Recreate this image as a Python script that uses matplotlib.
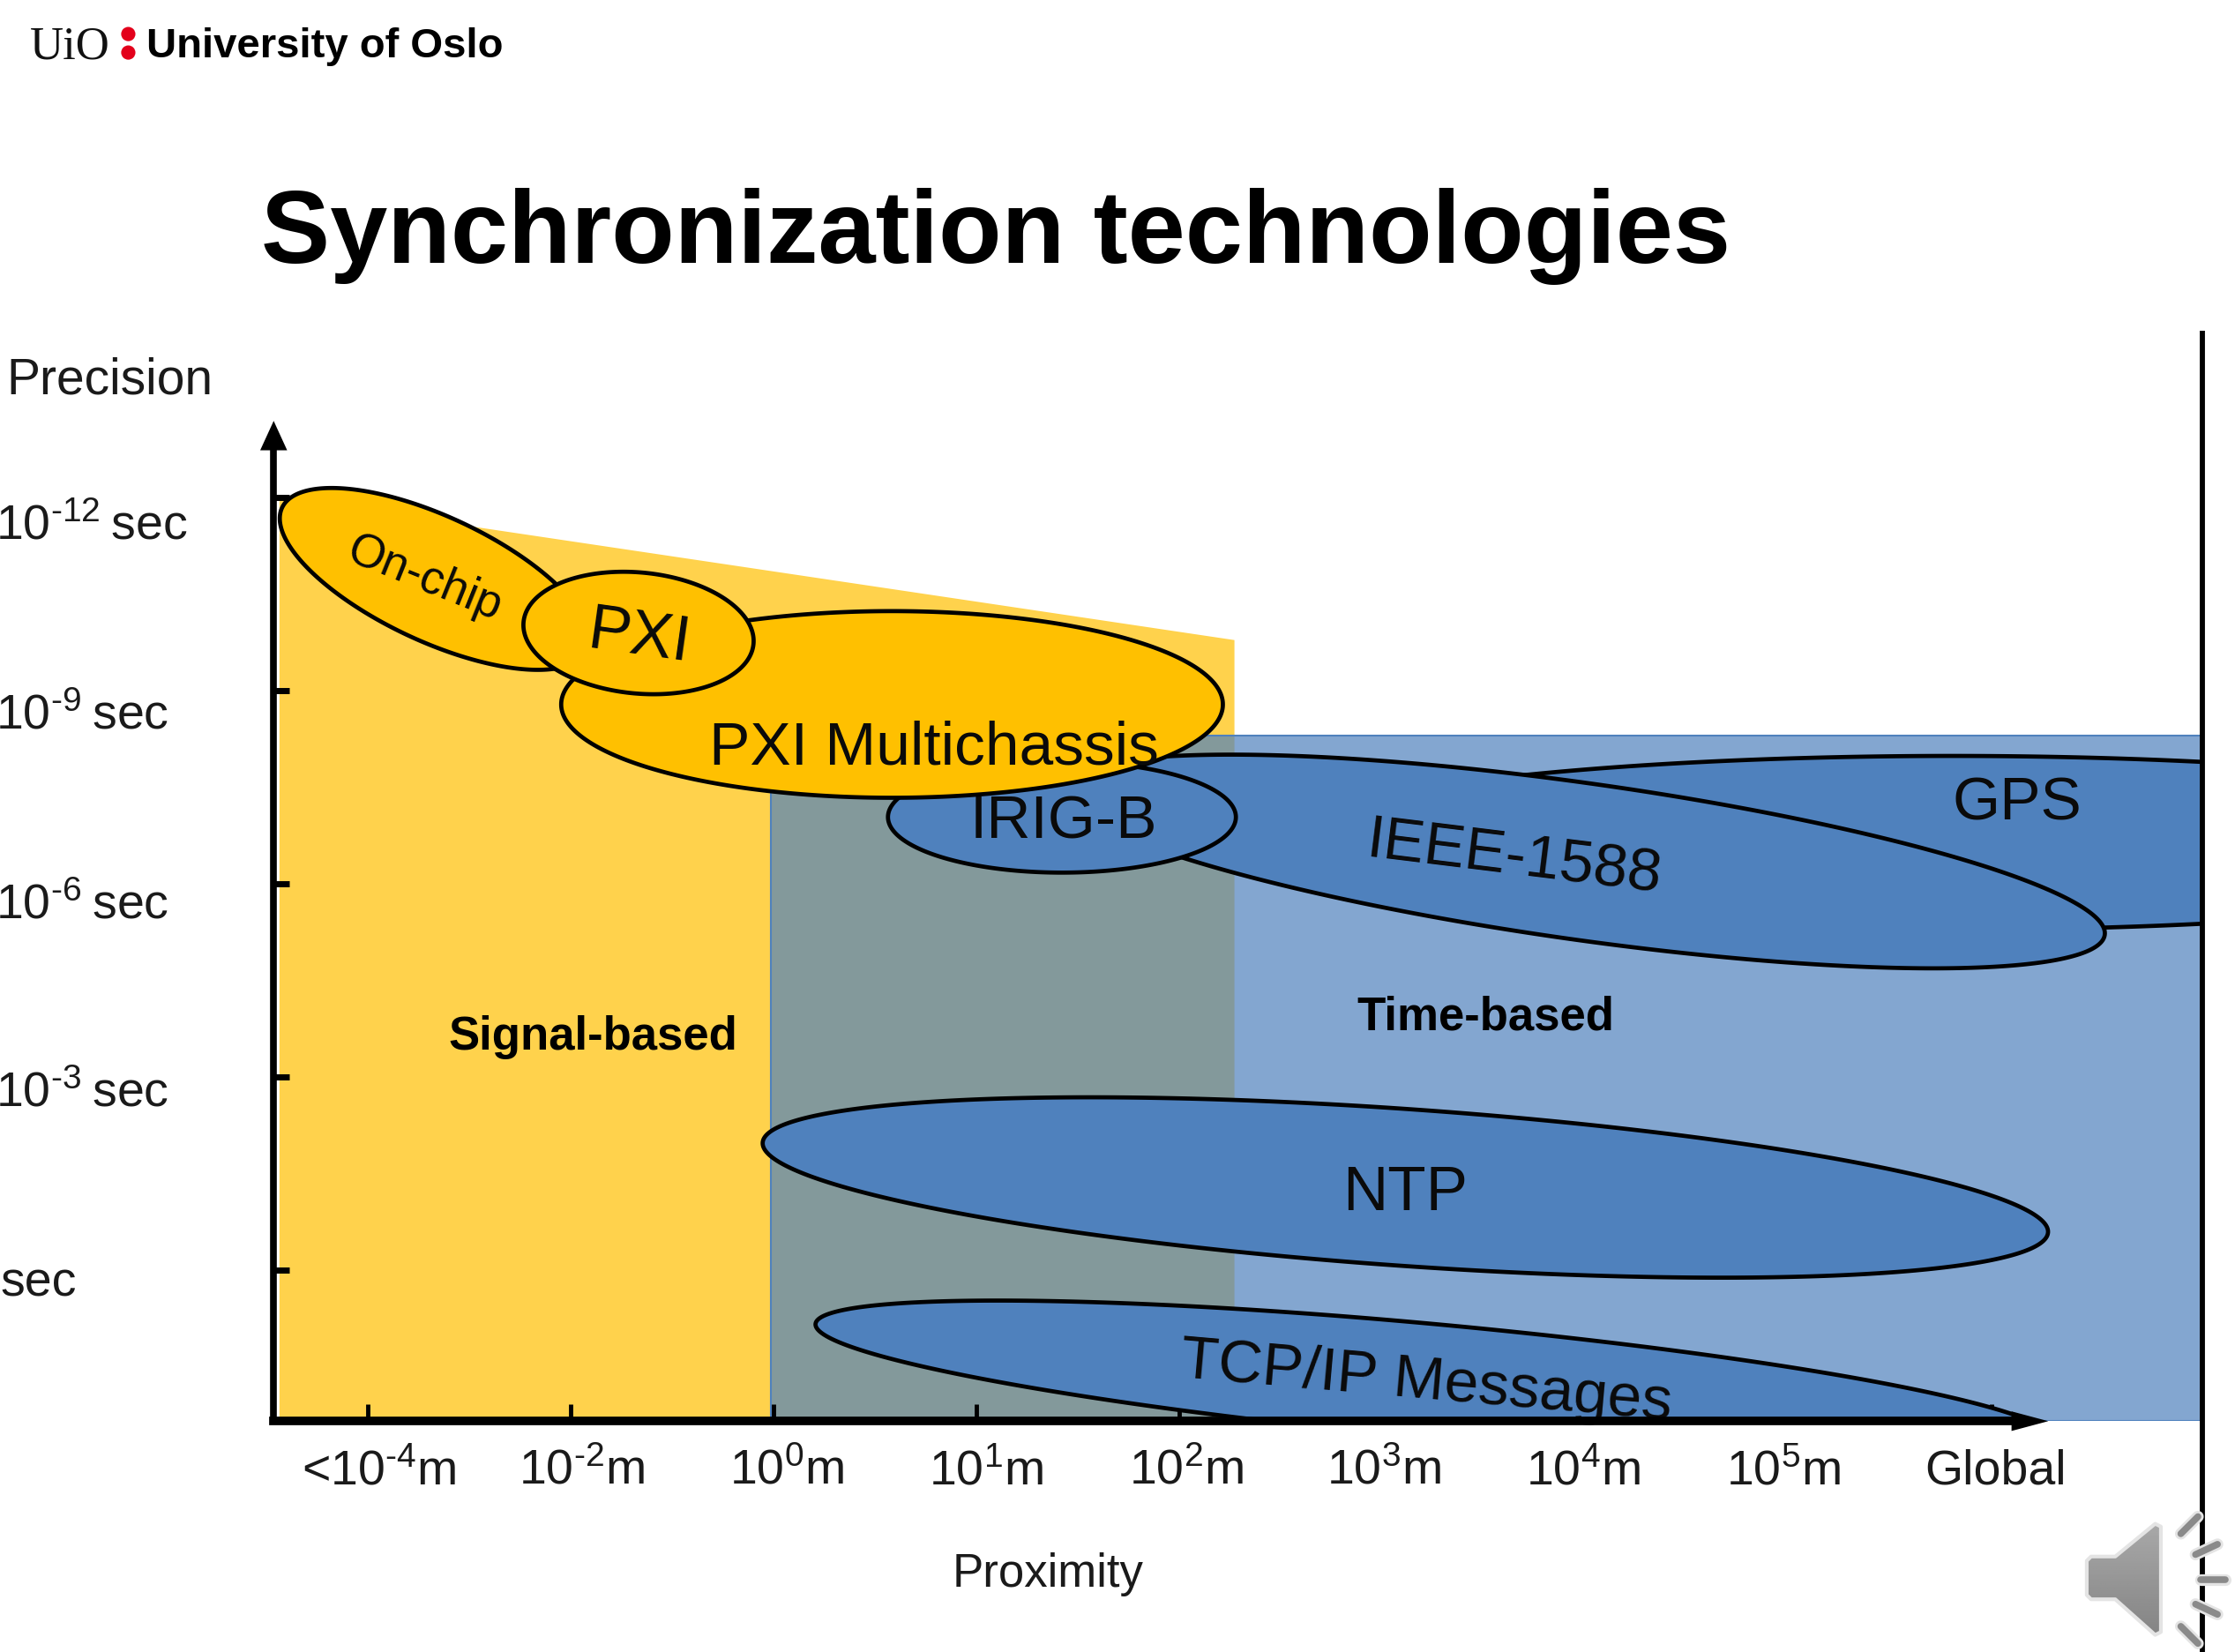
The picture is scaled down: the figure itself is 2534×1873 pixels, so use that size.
import numpy as np
import matplotlib
matplotlib.use("Agg")
import matplotlib.pyplot as plt
from matplotlib.patches import Polygon, Ellipse

W, H = 2534, 1874
REF_W, REF_H = 1568.0, 1160.0

plt.rcParams["font.family"] = ["Liberation Sans", "DejaVu Sans"]
plt.rcParams["mathtext.fontset"] = "custom"
plt.rcParams["mathtext.rm"] = "Liberation Sans"
plt.rcParams["mathtext.default"] = "rm"

TITLE = "Synchronization technologies"
ORG = "University of Oslo"
X_LABELS = ["<10$^{\u20104}$m", "10$^{\u20102}$m", "10$^{0}$m", "10$^{1}$m", "10$^{2}$m",
            "10$^{3}$m", "10$^{4}$m", "10$^{5}$m", "Global"]
X_TICKS = [0, 1, 2, 3, 4, 5, 6, 7, 8]
Y_TICKS = [-12, -9, -6, -3, 0]
Y_LABELS = ["10$^{\u201012}$\u2009sec", "10$^{\u20109}$\u2009sec", "10$^{\u20106}$\u2009sec", "10$^{\u20103}$\u2009sec", "sec"]

# Technology ellipses: decade index (x), precision exponent (y)
TECH = ["TCP/IP Messages", "NTP", "GPS", "IEEE-1588", "IRIG-B", "PXI Multichassis", "On-chip", "PXI"]
TECH_CX = [5.253, 5.112, 7.809, 5.983, 3.42, 2.583, 0.33, 1.334]
TECH_CY = [1.726, -1.285, -6.64, -6.35, -7.04, -8.79, -10.74, -9.90]
TECH_RX = [3.06, 3.174, 3.371, 2.60, 0.857, 1.63, 0.83, 0.569]
TECH_RY = [0.886, 1.218, 1.35, 1.218, 0.863, 1.45, 0.97, 0.94]
TECH_TILT = [5.3, 4, 0, 8, 0, 0, 25, 5.5]
TECH_KIND = ["time", "time", "time", "time", "time", "signal", "signal", "signal"]

# Regions
SIGNAL_X = [-0.435, -0.435, 4.27, 4.27]
SIGNAL_Y = [2.346, -12.0, -9.79, 2.346]
TIME_X = [1.987, 1.987, 9.04, 9.04]
TIME_Y = [2.346, -8.30, -8.30, 2.346]

YEL = "#FFC000"
BLU = "#4F81BD"

# ---- layout helpers: reference-pixel position -> data
PX_PER_DEC = 142.4
PX_PER_EXP = 45.17
def dx(X): return (X - 258) / PX_PER_DEC
def dy(Y): return -12 + (Y - 350) / PX_PER_EXP

fig = plt.figure(figsize=(W / 100, H / 100), dpi=100, facecolor="white")
L, R, T, B = 192, 1545, 290, 998
ax = fig.add_axes([L / REF_W, 1 - B / REF_H, (R - L) / REF_W, (B - T) / REF_H])
ax.set_xlim(dx(L), dx(R))
ax.set_ylim(dy(B), dy(T))
ax.patch.set_visible(False)

ax.add_patch(Polygon(np.column_stack([SIGNAL_X, SIGNAL_Y]), fc=YEL, ec="none", alpha=0.7, zorder=1))
ax.add_patch(Polygon(np.column_stack([TIME_X, TIME_Y]), fc=BLU + "B3", ec=BLU, lw=1.5, zorder=1.1))

t = np.linspace(0, 2 * np.pi, 400)
for i, name in enumerate(TECH):
    a, b = TECH_RX[i] * PX_PER_DEC, TECH_RY[i] * PX_PER_EXP
    th = np.deg2rad(TECH_TILT[i])
    u, v = a * np.cos(t), b * np.sin(t)
    x = TECH_CX[i] + (u * np.cos(th) - v * np.sin(th)) / PX_PER_DEC
    y = TECH_CY[i] + (u * np.sin(th) + v * np.cos(th)) / PX_PER_EXP
    ax.fill(x, y, fc=YEL if TECH_KIND[i] == "signal" else BLU, ec="black", lw=3.4, zorder=2 + i * 0.2)

# Axes lines
for s in ("top", "right"):
    ax.spines[s].set_visible(False)
ax.spines["left"].set_linewidth(5.5)
ax.spines["bottom"].set_linewidth(7)
ax.spines["left"].set_bounds(dy(B), dy(316))
ax.spines["bottom"].set_bounds(dx(L), dx(1420))
ax.spines["left"].set_zorder(6)
ax.spines["bottom"].set_zorder(6)

ax.set_xticks(X_TICKS, labels=[""] * len(X_TICKS))
ax.set_yticks(Y_TICKS, labels=[""] * len(Y_TICKS))
ax.tick_params(axis="x", which="major", direction="in", length=14, width=3.5, color="black", zorder=6)
ax.tick_params(axis="y", which="major", direction="in", length=13, width=5, color="black", zorder=6)

# Arrow heads
ax.annotate("", xy=(dx(192), dy(296)), xytext=(dx(192), dy(322)), annotation_clip=False,
            arrowprops=dict(arrowstyle="-|>,head_length=1.2,head_width=0.55", color="black", lw=0,
                            shrinkA=0, shrinkB=0, mutation_scale=20), zorder=7)
ax.annotate("", xy=(dx(1437), dy(998)), xytext=(dx(1405), dy(998)), annotation_clip=False,
            arrowprops=dict(arrowstyle="-|>,head_length=1.5,head_width=0.4", color="black", lw=0,
                            shrinkA=0, shrinkB=0, mutation_scale=20), zorder=7)

# Tick labels (offset from the tick marks in the original)
XLAB_PX = [266, 408, 552, 692, 832, 971, 1111, 1251, 1400]
for lab, Xp in zip(X_LABELS, XLAB_PX):
    ax.text(dx(Xp), dy(1033), lab, ha="center", va="center", fontsize=40, color="#1a1a1a", clip_on=False)
YLAB_PY = [370, 503, 636, 768, 901]
for lab, Yp in zip(Y_LABELS, YLAB_PY):
    ax.text(dx(0 if lab == "sec" else -3), dy(Yp), lab, ha="left", va="center", fontsize=40, color="#1a1a1a", clip_on=False)

ax.text(dx(77), dy(267), "Precision", ha="center", va="center", fontsize=41, color="#1a1a1a", clip_on=False)
ax.text(dx(735), dy(1105), "Proximity", ha="center", va="center", fontsize=38, color="#1a1a1a", clip_on=False)

# Region labels
ax.text(dx(416), dy(728), "Signal-based", ha="center", va="center", fontsize=38, weight="bold", zorder=6)
ax.text(dx(1042), dy(714), "Time-based", ha="center", va="center", fontsize=38, weight="bold", zorder=6)

# Technology labels
TXT = dict(ha="center", va="center", color="#0a0a0a")
ax.text(dx(298), dy(406), "On-chip", rotation=-22, rotation_mode="anchor", fontsize=38, zorder=5, **TXT)
ax.text(dx(448), dy(448), "PXI", rotation=-8, rotation_mode="anchor", fontsize=52, zorder=5, **TXT)
ax.text(dx(655), dy(525), "PXI Multichassis", fontsize=50, zorder=5, **TXT)
ax.text(dx(746), dy(577), "IRIG-B", fontsize=50, zorder=2.9, **TXT)
ax.text(dx(1062), dy(603), "IEEE-1588", rotation=-7, rotation_mode="anchor", fontsize=50, zorder=5, **TXT)
ax.text(dx(1415), dy(564), "GPS", fontsize=50, zorder=5, **TXT)
ax.text(dx(986), dy(838), "NTP", fontsize=51, zorder=5, **TXT)
ax.text(dx(1001), dy(970), "TCP/IP Messages", rotation=-5, rotation_mode="anchor", fontsize=50, zorder=2.1, **TXT)

# ---- slide furniture, drawn in reference-pixel space
deco = fig.add_axes([0, 0, 1, 1], zorder=10)
deco.patch.set_visible(False)
deco.axis("off")
deco.plot([1545, 1545], [233, 1160], color="black", lw=4.2, solid_capstyle="butt")
deco.text(21, 33, "UiO", family="Liberation Serif", fontsize=38, va="center", ha="left", color="#111111")
deco.text(103, 33, ORG, weight="bold", fontsize=34, va="center", ha="left", color="black")
deco.add_patch(Ellipse((90, 24.5), 10, 10, fc="#E3001B", ec="none"))
deco.add_patch(Ellipse((90, 37.5), 10, 10, fc="#E3001B", ec="none"))
deco.text(183, 166, TITLE, weight="bold", fontsize=84.3, va="center", ha="left", color="black")

# speaker icon with a vertical grey gradient
body = Polygon([(1464, 1096), (1467, 1093), (1484, 1093), (1512, 1070), (1516, 1072), (1516, 1146), (1512, 1148), (1484, 1123), (1467, 1123), (1464, 1120)],
               closed=True, fc="none", ec="#E4E4E4", lw=3.0, joinstyle="round", zorder=3)
deco.add_patch(body)
grad = deco.imshow(np.linspace(0.66, 0.52, 64)[:, None], cmap="gray", vmin=0, vmax=1, aspect="auto",
                   extent=(1464, 1516, 1148, 1070), zorder=2)
grad.set_clip_path(body)
for (x0, y0, ang) in [(1536, 1071, -45), (1548, 1088, -25), (1552.5, 1109, 0), (1548, 1130, 25), (1536, 1148, 45)]:
    c, s = 8.5 * np.cos(np.deg2rad(ang)), 8.5 * np.sin(np.deg2rad(ang))
    deco.plot([x0 - c, x0 + c], [y0 - s, y0 + s], color="#E4E4E4", lw=9.5, solid_capstyle="round", zorder=4)
    deco.plot([x0 - c, x0 + c], [y0 - s, y0 + s], color="#8A8A8A", lw=5.5, solid_capstyle="round", zorder=5)

deco.set_xlim(0, REF_W)
deco.set_ylim(REF_H, 0)

fig.savefig("out.png", dpi=100, facecolor="white")
